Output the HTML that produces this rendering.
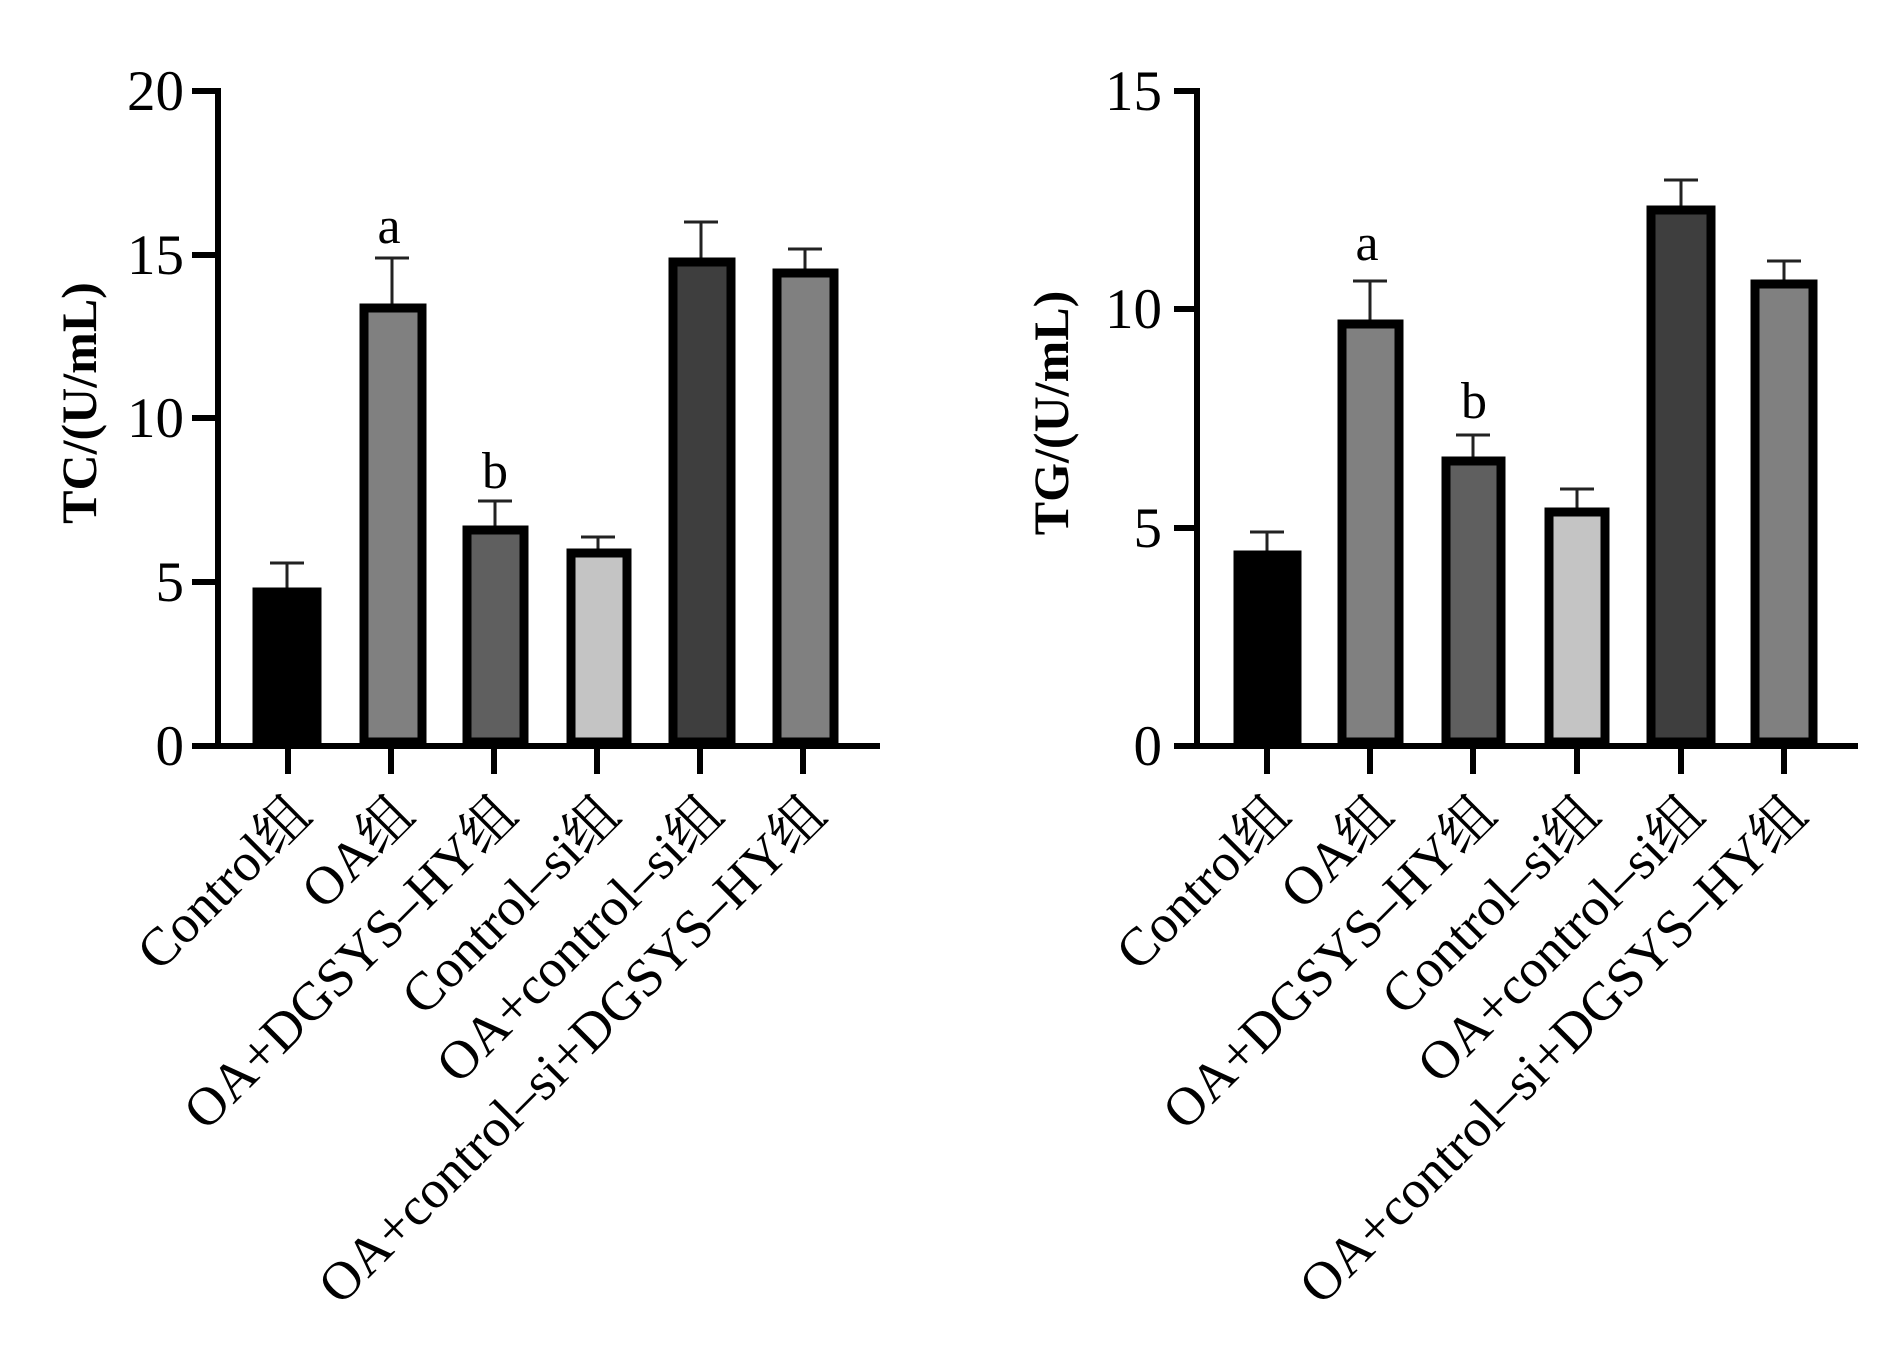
<!DOCTYPE html>
<html><head><meta charset="utf-8"><style>
html,body{margin:0;padding:0;background:#fff;}
svg{display:block;}
text{font-family:"Liberation Serif","Noto Serif CJK SC",serif;fill:#000;}
</style></head><body>
<svg width="1890" height="1352" viewBox="0 0 1890 1352" xmlns="http://www.w3.org/2000/svg">
<g stroke="#000" stroke-width="6" fill="none">
<line x1="218" y1="88" x2="218" y2="749"/>
<line x1="192" y1="746" x2="880" y2="746"/>
<line x1="192" y1="91" x2="218" y2="91"/>
<line x1="192" y1="255" x2="218" y2="255"/>
<line x1="192" y1="418" x2="218" y2="418"/>
<line x1="192" y1="582" x2="218" y2="582"/>
<line x1="288" y1="746" x2="288" y2="774"/>
<line x1="391" y1="746" x2="391" y2="774"/>
<line x1="494" y1="746" x2="494" y2="774"/>
<line x1="597" y1="746" x2="597" y2="774"/>
<line x1="700" y1="746" x2="700" y2="774"/>
<line x1="803" y1="746" x2="803" y2="774"/>
<line x1="1197" y1="88" x2="1197" y2="749"/>
<line x1="1174" y1="746" x2="1858" y2="746"/>
<line x1="1174" y1="91" x2="1197" y2="91"/>
<line x1="1174" y1="309" x2="1197" y2="309"/>
<line x1="1174" y1="528" x2="1197" y2="528"/>
<line x1="1267" y1="746" x2="1267" y2="774"/>
<line x1="1370" y1="746" x2="1370" y2="774"/>
<line x1="1473" y1="746" x2="1473" y2="774"/>
<line x1="1577" y1="746" x2="1577" y2="774"/>
<line x1="1681" y1="746" x2="1681" y2="774"/>
<line x1="1784" y1="746" x2="1784" y2="774"/>
</g>
<g stroke="#222" stroke-width="3">
<line x1="287" y1="563" x2="287" y2="590"/><line x1="270" y1="563" x2="304" y2="563"/>
<line x1="392" y1="258" x2="392" y2="305"/><line x1="375" y1="258" x2="409" y2="258"/>
<line x1="495" y1="501" x2="495" y2="526"/><line x1="478" y1="501" x2="512" y2="501"/>
<line x1="598" y1="537" x2="598" y2="550"/><line x1="581" y1="537" x2="615" y2="537"/>
<line x1="701" y1="222" x2="701" y2="260"/><line x1="684" y1="222" x2="718" y2="222"/>
<line x1="805" y1="249" x2="805" y2="270"/><line x1="788" y1="249" x2="822" y2="249"/>
<line x1="1267" y1="532" x2="1267" y2="553"/><line x1="1250" y1="532" x2="1284" y2="532"/>
<line x1="1370" y1="281" x2="1370" y2="322"/><line x1="1353" y1="281" x2="1387" y2="281"/>
<line x1="1473" y1="435" x2="1473" y2="459"/><line x1="1456" y1="435" x2="1490" y2="435"/>
<line x1="1577" y1="489" x2="1577" y2="510"/><line x1="1560" y1="489" x2="1594" y2="489"/>
<line x1="1681" y1="180" x2="1681" y2="208"/><line x1="1664" y1="180" x2="1698" y2="180"/>
<line x1="1784" y1="261" x2="1784" y2="282"/><line x1="1767" y1="261" x2="1801" y2="261"/>
</g>
<g stroke="#000" stroke-width="9">
<rect x="257" y="592" width="60" height="150" fill="#000"/>
<rect x="364" y="308" width="58" height="434" fill="#808080"/>
<rect x="467" y="530" width="57" height="212" fill="#5f5f5f"/>
<rect x="571" y="553" width="56" height="189" fill="#c4c4c4"/>
<rect x="673" y="262" width="58" height="480" fill="#3e3e3e"/>
<rect x="777" y="273" width="57" height="469" fill="#808080"/>
<rect x="1238" y="555" width="59" height="187" fill="#000"/>
<rect x="1342" y="324" width="57" height="418" fill="#808080"/>
<rect x="1446" y="461" width="55" height="281" fill="#5f5f5f"/>
<rect x="1549" y="512" width="56" height="230" fill="#c4c4c4"/>
<rect x="1651" y="210" width="60" height="532" fill="#3e3e3e"/>
<rect x="1755" y="284" width="58" height="458" fill="#808080"/>
</g>
<g font-size="57" text-anchor="end">
<text x="184" y="110">20</text>
<text x="184" y="274">15</text>
<text x="184" y="437">10</text>
<text x="184" y="601">5</text>
<text x="184" y="765">0</text>
<text x="1162" y="110">15</text>
<text x="1162" y="328">10</text>
<text x="1162" y="547">5</text>
<text x="1162" y="765">0</text>
</g>
<g font-size="52" text-anchor="middle">
<text x="389" y="243">a</text>
<text x="495" y="488">b</text>
<text x="1367" y="260">a</text>
<text x="1474" y="418">b</text>
</g>
<text font-size="50" font-weight="bold" text-anchor="middle" transform="translate(96,403) rotate(-90)">TC/(U/mL)</text>
<text font-size="50" font-weight="bold" text-anchor="middle" transform="translate(1068,413) rotate(-90)">TG/(U/mL)</text>
<g font-size="54" text-anchor="end">
<text transform="translate(314,818) rotate(-45)">Control组</text>
<text transform="translate(417,818) rotate(-45)">OA组</text>
<text transform="translate(520,818) rotate(-45)">OA+DGSYS–HY组</text>
<text transform="translate(623,818) rotate(-45)">Control–si组</text>
<text transform="translate(726,818) rotate(-45)">OA+control–si组</text>
<text transform="translate(829,818) rotate(-45)">OA+control–si+DGSYS–HY组</text>
<text transform="translate(1293,818) rotate(-45)">Control组</text>
<text transform="translate(1396,818) rotate(-45)">OA组</text>
<text transform="translate(1499,818) rotate(-45)">OA+DGSYS–HY组</text>
<text transform="translate(1603,818) rotate(-45)">Control–si组</text>
<text transform="translate(1707,818) rotate(-45)">OA+control–si组</text>
<text transform="translate(1810,818) rotate(-45)">OA+control–si+DGSYS–HY组</text>
</g>
</svg>
</body></html>
